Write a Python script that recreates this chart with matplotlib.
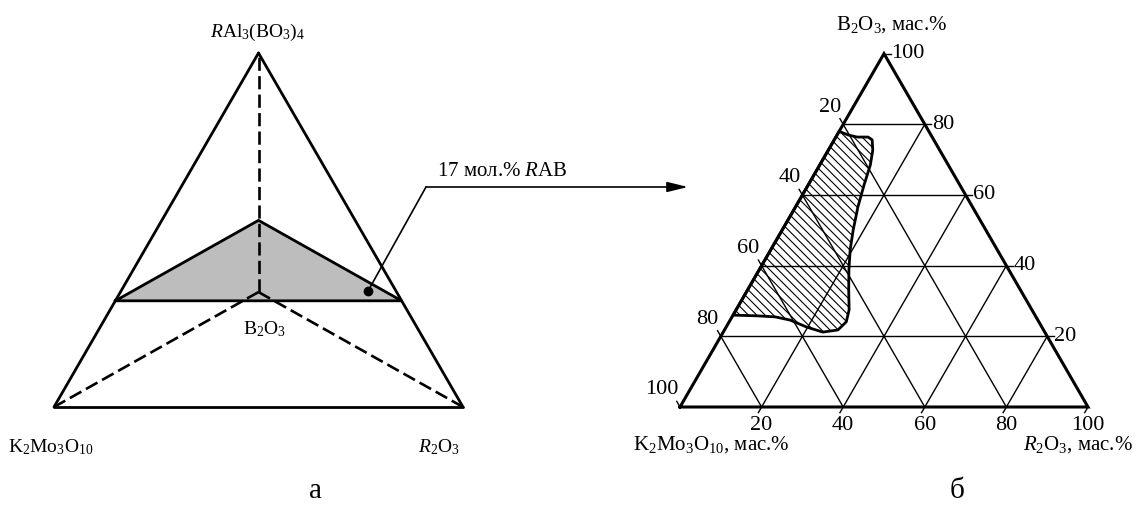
import numpy as np
import matplotlib
matplotlib.use('Agg')
import matplotlib.pyplot as plt
from matplotlib.transforms import Affine2D
from matplotlib.patches import Polygon

plt.rcParams['font.family'] = ['Liberation Serif', 'DejaVu Serif']
plt.rcParams['mathtext.fontset'] = 'custom'
plt.rcParams['mathtext.rm'] = 'Liberation Serif'
plt.rcParams['mathtext.it'] = 'Liberation Serif:italic'
plt.rcParams['hatch.linewidth'] = 0.8

# --- data ---
# left (a): projected tetrahedron vertices, unit frame
vert_names = ['K2Mo3O10', 'R2O3', 'RAB', 'B2O3']
vert_x = [0.0, 1.0, 0.5, 0.5]
vert_y = [0.0, 0.0, 0.8655, 0.281]
section_level = 0.30          # position of the 17 mol.% RAB section
dot_xy = (0.768, 0.284)       # point in the section

# right (b): ternary grid and field boundary, mass %
ticks = [20, 40, 60, 80, 100]
grid_vals = [20, 40, 60, 80]
field_b2o3 = [78.0, 77.0, 76.4, 76.4, 75.6, 72.7, 68.5, 62.8, 56.6, 50.1, 44.4,
              38.8, 33.1, 27.5, 24.1, 21.8, 21.2, 22.6, 24.6, 25.5, 25.8, 26.0]
field_r2o3 = [0.0, 2.7, 5.2, 7.9, 9.3, 10.9, 12.4, 13.7, 15.3, 17.4, 19.5,
              22.0, 24.8, 27.7, 28.7, 27.8, 24.4, 19.8, 14.7, 10.6, 6.0, 0.0]

fig = plt.figure(figsize=(11.36, 5.07), dpi=100)
ax = fig.add_axes([0, 0, 1, 1])
ax.set_xlim(0, 1136)
ax.set_ylim(507, 0)
ax.axis('off')

# ---------- panel a ----------
left_aff = Affine2D().scale(409, -409).translate(54, 407)
left_tr = left_aff + ax.transData
V = {n: np.array([x, y]) for n, x, y in zip(vert_names, vert_x, vert_y)}

def on_edge(a, b, t):
    return V[a] + t * (V[b] - V[a])

s1 = on_edge('K2Mo3O10', 'RAB', section_level)
s2 = on_edge('R2O3', 'RAB', section_level)
s3 = on_edge('B2O3', 'RAB', section_level)
ax.add_patch(Polygon([s1, s3, s2], closed=True, facecolor='#bdbdbd',
                     edgecolor='none', transform=left_tr, zorder=1))

dash = (0, (5, 2))
for a, b in [('B2O3', 'RAB'), ('B2O3', 'K2Mo3O10'), ('B2O3', 'R2O3')]:
    ax.plot([V[a][0], V[b][0]], [V[a][1], V[b][1]], color='k', lw=1.9,
            ls=dash, transform=left_tr, zorder=2)

for a, b in [('K2Mo3O10', 'R2O3'), ('K2Mo3O10', 'RAB'), ('R2O3', 'RAB')]:
    ax.plot([V[a][0], V[b][0]], [V[a][1], V[b][1]], color='k', lw=2.0,
            transform=left_tr, zorder=3, solid_capstyle='round')
sec = np.array([s1, s3, s2, s1])
ax.plot(sec[:, 0], sec[:, 1], color='k', lw=2.0, transform=left_tr, zorder=3,
        solid_joinstyle='miter')

ax.plot([dot_xy[0]], [dot_xy[1]], 'o', color='k', ms=6, transform=left_tr, zorder=4)

# callout to panel b
dot_px = left_aff.transform(dot_xy)
ax.plot([dot_px[0], 426], [dot_px[1], 187], color='k', lw=1.2, zorder=4)
ax.annotate('', xy=(688, 187), xytext=(426, 187),
            arrowprops=dict(arrowstyle='-|>,head_length=0.9,head_width=0.22',
                            color='k', lw=1.2, mutation_scale=14,
                            shrinkA=0, shrinkB=0))
ax.text(437, 171, '17 мол.% $\\mathit{R}$AB', fontsize=15, ha='left', va='center')

ax.text(258, 32, '$\\mathit{R}\\mathrm{Al_3(BO_3)_4}$', fontsize=14,
        ha='center', va='center')
ax.text(264, 329, 'B$_2$O$_3$', fontsize=14, ha='center', va='center')
ax.text(8, 447, 'K$_2$Mo$_3$O$_{10}$', fontsize=14, ha='left', va='center')
ax.text(418, 447, '$\\mathit{R}_2\\mathrm{O}_3$', fontsize=14, ha='left', va='center')
ax.text(316, 491, 'а', fontsize=21, ha='center', va='center')

# ---------- panel b ----------
S = 408
tern_aff = Affine2D(np.array([[S / 100, S / 200, 680],
                              [0, -S * np.sqrt(3) / 200, 407],
                              [0, 0, 1]]))
tern_tr = tern_aff + ax.transData

for v in grid_vals:
    ax.plot([0, 100 - v], [v, v], color='k', lw=1.0, transform=tern_tr)
    ax.plot([v, v], [0, 100 - v], color='k', lw=1.0, transform=tern_tr)
    ax.plot([100 - v, 0], [0, 100 - v], color='k', lw=1.0, transform=tern_tr)

field = Polygon(np.column_stack([field_r2o3, field_b2o3]), closed=True,
                facecolor='none', edgecolor='k', lw=2.0, hatch='\\\\\\\\',
                transform=tern_tr, zorder=3, joinstyle='round')
ax.add_patch(field)

ax.plot([0, 100, 0, 0], [0, 0, 100, 0], color='k', lw=2.2, transform=tern_tr,
        zorder=4, solid_joinstyle='miter')

e = 1.6
for v in ticks:
    # B2O3 on right edge
    ax.plot([100 - v, 100 - v + e], [v, v], color='k', lw=1.0, transform=tern_tr)
    px, py = tern_aff.transform((100 - v, v))
    ax.text(px + 7, py, str(v), fontsize=16, ha='left', va='center')
    # K2Mo3O10 on left edge
    ax.plot([0, -e], [100 - v, 100 - v + e], color='k', lw=1.0, transform=tern_tr)
    px, py = tern_aff.transform((0, 100 - v))
    ax.text(px - 2, py - 17, str(v), fontsize=16, ha='right', va='center')
    # R2O3 on bottom
    ax.plot([v, v], [0, -e], color='k', lw=1.0, transform=tern_tr)
    px, py = tern_aff.transform((v, 0))
    ax.text(px, py + 19, str(v), fontsize=16, ha='center', va='center')

ax.text(892, 25, 'B$_2$O$_3$, мас.%', fontsize=15, ha='center', va='center')
ax.text(633, 445, 'K$_2$Mo$_3$O$_{10}$, мас.%', fontsize=15, ha='left', va='center')
ax.text(1133, 445, '$\\mathit{R}_2\\mathrm{O}_3$, мас.%', fontsize=15,
        ha='right', va='center')
ax.text(957, 491, 'б', fontsize=21, ha='center', va='center')

fig.savefig('out.png', dpi=100, facecolor='white')
